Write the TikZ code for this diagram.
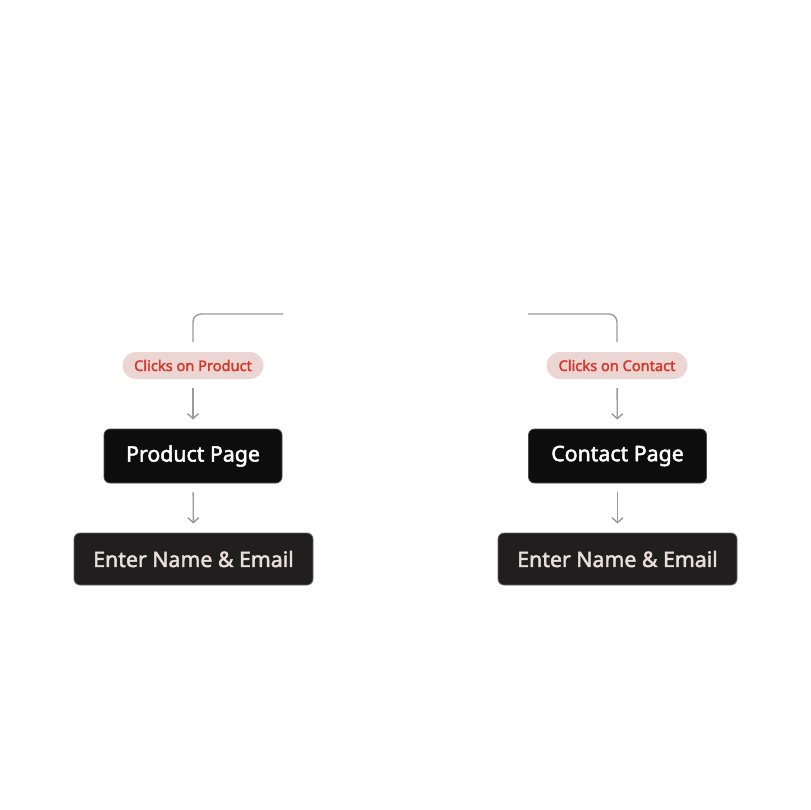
\documentclass[tikz,border=0pt]{standalone}
\usepackage{fontspec}
\newfontfamily\uifont{Noto Sans}[BoldFont=Noto Sans, BoldFeatures={FakeBold=2.2}]
\usetikzlibrary{positioning}
\usetikzlibrary{arrows.meta}
\definecolor{linegray}{RGB}{154,154,154}
\definecolor{pillfill}{RGB}{236,214,211}
\definecolor{pilltext}{RGB}{214,56,42}
\definecolor{pagefill}{RGB}{13,13,13}
\definecolor{formfill}{RGB}{32,30,30}
\definecolor{formtext}{RGB}{232,222,220}

\tikzset{
  pill/.style={rounded corners=13.5pt, fill=pillfill, text=pilltext,
    minimum width=141pt, minimum height=27pt, inner sep=0pt,
    font=\uifont\bfseries\fontsize{14.6}{14.6}\selectfont},
  pagebox/.style={rounded corners=6pt, fill=pagefill, draw=black!70, line width=0.8pt,
    text=white, minimum width=178pt, minimum height=54pt, inner sep=0pt,
    font=\uifont\bfseries\fontsize{21.3}{21.3}\selectfont},
  formbox/.style={rounded corners=6pt, fill=formfill, draw=black!60, line width=0.8pt,
    text=formtext, minimum width=239pt, minimum height=52pt, inner sep=0pt,
    font=\uifont\bfseries\fontsize{21.3}{21.3}\selectfont},
  flow/.style={linegray, line width=1.4pt, -{Straight Barb[length=5pt,width=11pt]},
    shorten <=9pt, shorten >=9pt},
  feed/.style={linegray, line width=1.4pt, rounded corners=8pt}
}

\begin{document}
\begin{tikzpicture}[x=1pt, y=-1pt]

\useasboundingbox (0,0) rectangle (810,810);

%---------------------------------------
% Left branch: product
%---------------------------------------
\coordinate (prodin) at (283,314);
\node[pill]    (clkprod)  at (193,365.5) {Clicks on Product};
\node[pagebox] (prodpage) at (193,456)   {Product Page};
\node[formbox] (prodform) at (193.5,559) {Enter Name \& Email};

\draw[feed] (prodin) -| ([yshift=10pt]clkprod.north);
\draw[flow] (clkprod) -- (prodpage);
\draw[flow] (prodpage) -- (prodform);

%---------------------------------------
% Right branch: contact
%---------------------------------------
\coordinate (contin) at (528,314);
\node[pill]    (clkcont)  at (617,365.5) {Clicks on Contact};
\node[pagebox] (contpage) at (617.5,456) {Contact Page};
\node[formbox] (contform) at (617.5,559) {Enter Name \& Email};

\draw[feed] (contin) -| ([yshift=10pt]clkcont.north);
\draw[flow] (clkcont) -- (contpage);
\draw[flow] (contpage) -- (contform);

\end{tikzpicture}
\end{document}
